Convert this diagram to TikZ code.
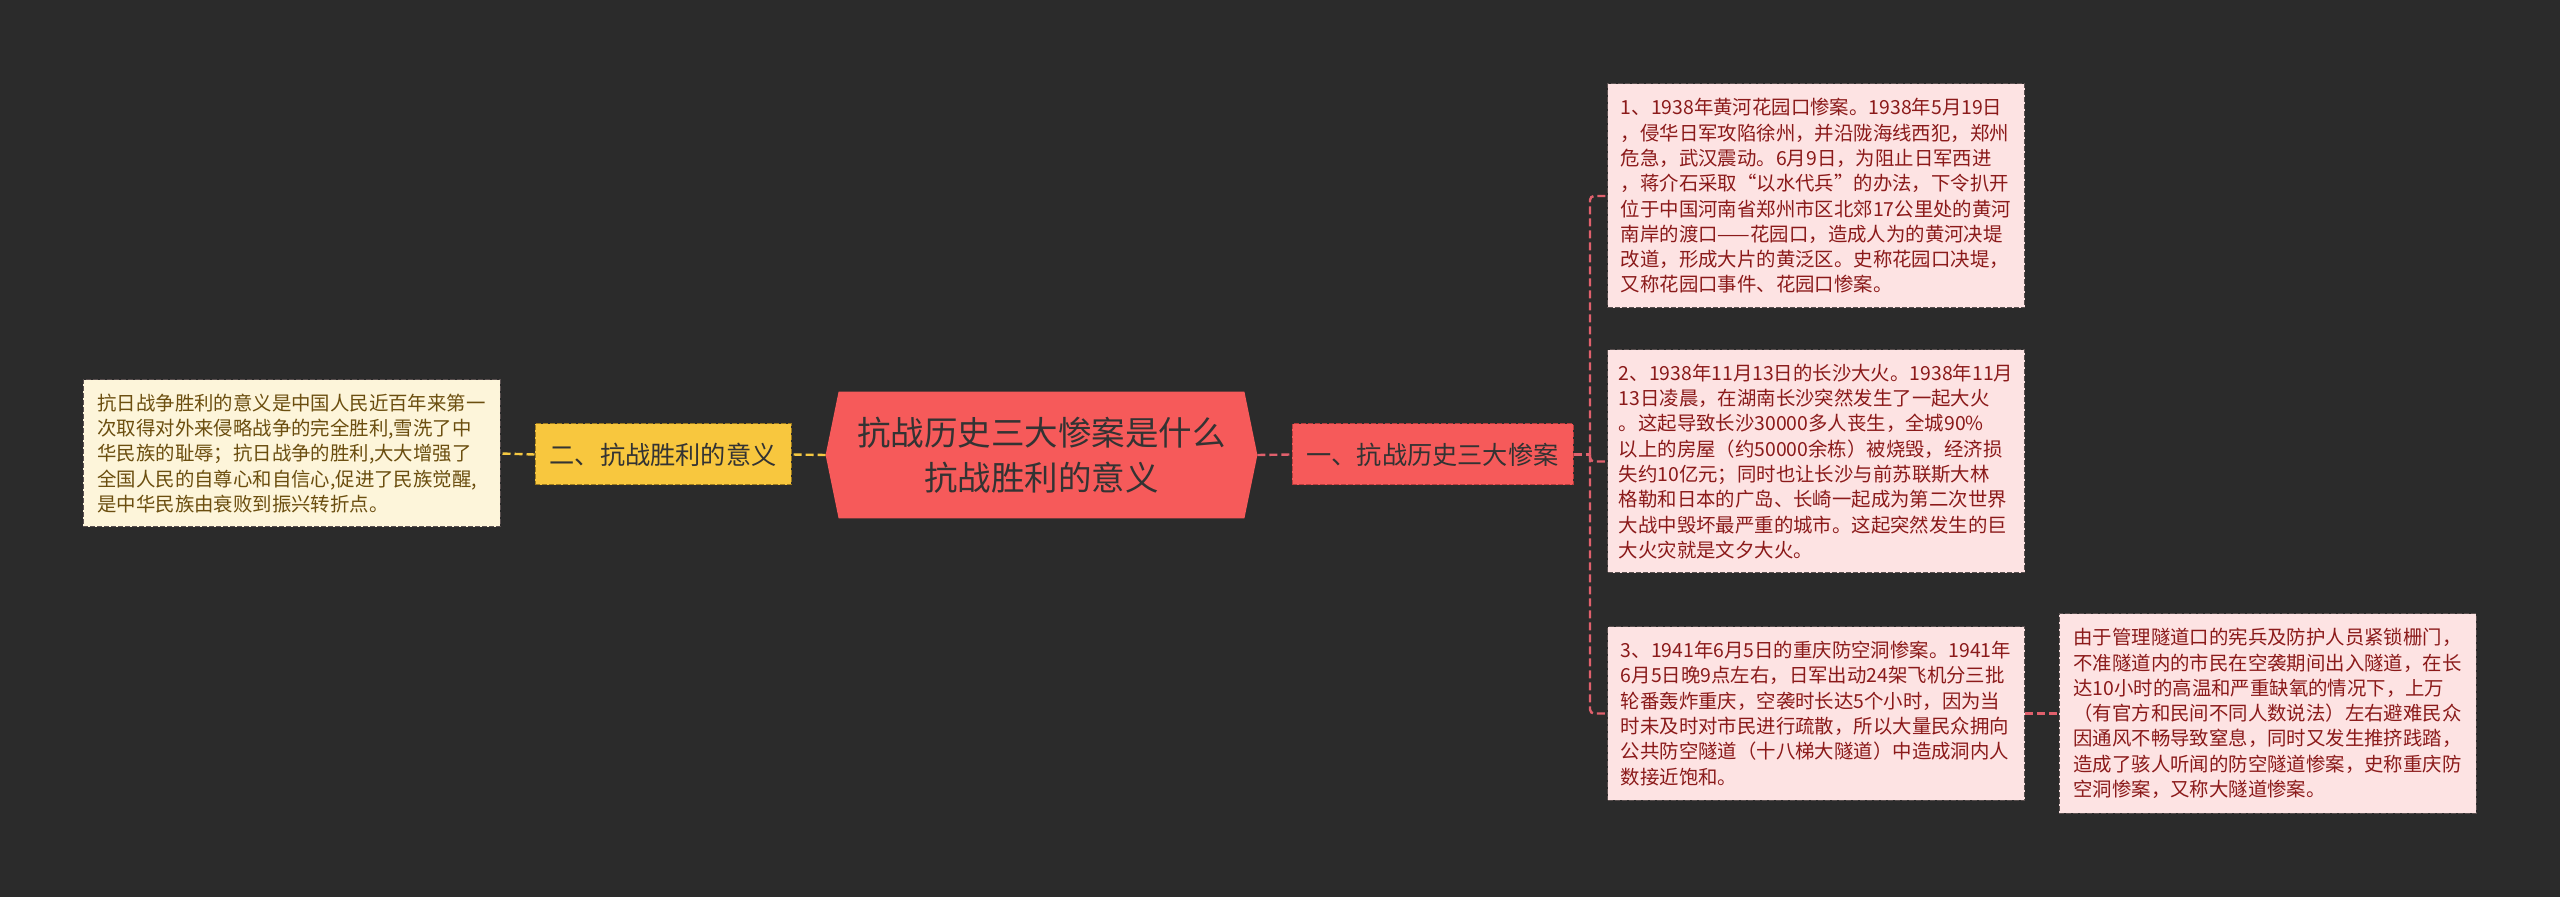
\documentclass[tikz,border=0pt]{standalone}
\usepackage{fontspec}
\setmainfont{Noto Sans CJK SC}
\definecolor{bgdark}{HTML}{2B2B2B}
\definecolor{rootred}{HTML}{F65A5A}
\definecolor{txtdark}{HTML}{333333}
\definecolor{redline}{HTML}{E0606C}
\definecolor{rededge}{HTML}{B83C3C}
\definecolor{yelfill}{HTML}{F8C73E}
\definecolor{yeledge}{HTML}{9C7A1E}
\definecolor{yelline}{HTML}{F5C842}
\definecolor{leafpink}{HTML}{FDE3E3}
\definecolor{leafred}{HTML}{8B1A1A}
\definecolor{leafcream}{HTML}{FDF5DA}
\definecolor{leafbrown}{HTML}{6B4E0F}
\definecolor{leafedge}{HTML}{5A5050}
\pgfdeclarelayer{bgfill}
\pgfdeclarelayer{hexfill}
\pgfsetlayers{bgfill,hexfill,main}
\tikzset{
  rootbox/.style={inner sep=0pt, minimum width=215.5pt, minimum height=63pt, align=center, text=txtdark,
    font=\fontsize{16.75pt}{22.5pt}\selectfont},
  subbox/.style={draw, line width=0.5pt, dash pattern=on 2.5pt off 1pt, inner sep=0pt, minimum height=30.5pt,
    text=txtdark, font=\fontsize{12.6pt}{15pt}\selectfont},
  leafbox/.style={draw=leafedge, line width=0.5pt, dash pattern=on 2.5pt off 1pt, inner sep=0pt, align=left,
    minimum width=208.5pt, font=\fontsize{9.7pt}{12.65pt}\selectfont},
  redlink/.style={draw=redline, line width=1.2pt, dash pattern=on 4pt off 2pt},
  yellink/.style={draw=yelline, line width=1.2pt, dash pattern=on 4pt off 2pt}
}
\begin{document}
\begin{tikzpicture}[x=0.5pt, y=-0.5pt]
  \useasboundingbox (0,0) rectangle (2560,897);
  \begin{pgfonlayer}{bgfill}
    \fill[bgdark] (0,0) rectangle (2560,897);
  \end{pgfonlayer}
  % centre
  \node[rootbox] (root) at (1041.5,455) {抗战历史三大惨案是什么\\抗战胜利的意义};
  \begin{pgfonlayer}{hexfill}
    \fill[rootred] (root.west) -- ([xshift=6.5pt]root.north west) -- ([xshift=-6.5pt]root.north east)
      -- (root.east) -- ([xshift=-6.5pt]root.south east) -- ([xshift=6.5pt]root.south west) -- cycle;
  \end{pgfonlayer}
  % first branch
  \node[subbox, draw=rededge, fill=rootred, minimum width=140.5pt] (part1) at (1432.5,454.5) {一、抗战历史三大惨案};
  \node[leafbox, fill=leafpink, text=leafred, minimum height=112pt] (case1) at (1816,196) {1、1938年黄河花园口惨案。1938年5月19日\\，侵华日军攻陷徐州，并沿陇海线西犯，郑州\\危急，武汉震动。6月9日，为阻止日军西进\\，蒋介石采取“以水代兵”的办法，下令扒开\\位于中国河南省郑州市区北郊17公里处的黄河\\南岸的渡口——花园口，造成人为的黄河决堤\\改道，形成大片的黄泛区。史称花园口决堤，\\又称花园口事件、花园口惨案。};
  \node[leafbox, fill=leafpink, text=leafred, minimum height=111.5pt] (case2) at (1816,461.5) {2、1938年11月13日的长沙大火。1938年11月\\13日凌晨，在湖南长沙突然发生了一起大火\\。这起导致长沙30000多人丧生，全城90\%\\以上的房屋（约50000余栋）被烧毁，经济损\\失约10亿元；同时也让长沙与前苏联斯大林\\格勒和日本的广岛、长崎一起成为第二次世界\\大战中毁坏最严重的城市。这起突然发生的巨\\大火灾就是文夕大火。};
  \node[leafbox, fill=leafpink, text=leafred, minimum height=86.5pt] (case3) at (1816,713.5) {3、1941年6月5日的重庆防空洞惨案。1941年\\6月5日晚9点左右，日军出动24架飞机分三批\\轮番轰炸重庆，空袭时长达5个小时，因为当\\时未及时对市民进行疏散，所以大量民众拥向\\公共防空隧道（十八梯大隧道）中造成洞内人\\数接近饱和。};
  \node[leafbox, fill=leafpink, text=leafred, minimum height=99.5pt] (case3b) at (2267.5,713.5) {由于管理隧道口的宪兵及防护人员紧锁栅门，\\不准隧道内的市民在空袭期间出入隧道，在长\\达10小时的高温和严重缺氧的情况下，上万\\（有官方和民间不同人数说法）左右避难民众\\因通风不畅导致窒息，同时又发生推挤践踏，\\造成了骇人听闻的防空隧道惨案，史称重庆防\\空洞惨案，又称大隧道惨案。};
  % second branch
  \node[subbox, draw=yeledge, fill=yelfill, minimum width=128pt] (part2) at (663,454.5) {二、抗战胜利的意义};
  \node[leafbox, fill=leafcream, text=leafbrown, minimum height=73.5pt] (gain) at (291.5,453.5) {抗日战争胜利的意义是中国人民近百年来第一\\次取得对外来侵略战争的完全胜利,雪洗了中\\华民族的耻辱；抗日战争的胜利,大大增强了\\全国人民的自尊心和自信心,促进了民族觉醒,\\是中华民族由衰败到振兴转折点。};
  % links
  \coordinate (fork) at (1590,454.5);
  \draw[redlink] (root.east) -- (part1.west);
  \draw[redlink] (part1.east) -- (fork);
  \draw[redlink, rounded corners=2pt] (fork) |- (case1.west);
  \draw[redlink, rounded corners=2pt] (fork) |- (case2.west);
  \draw[redlink, rounded corners=2pt] (fork) |- (case3.west);
  \draw[redlink] (case3.east) -- (case3b.west);
  \draw[yellink] (root.west) -- (part2.east);
  \draw[yellink] (part2.west) -- (gain.east);
\end{tikzpicture}
\end{document}
